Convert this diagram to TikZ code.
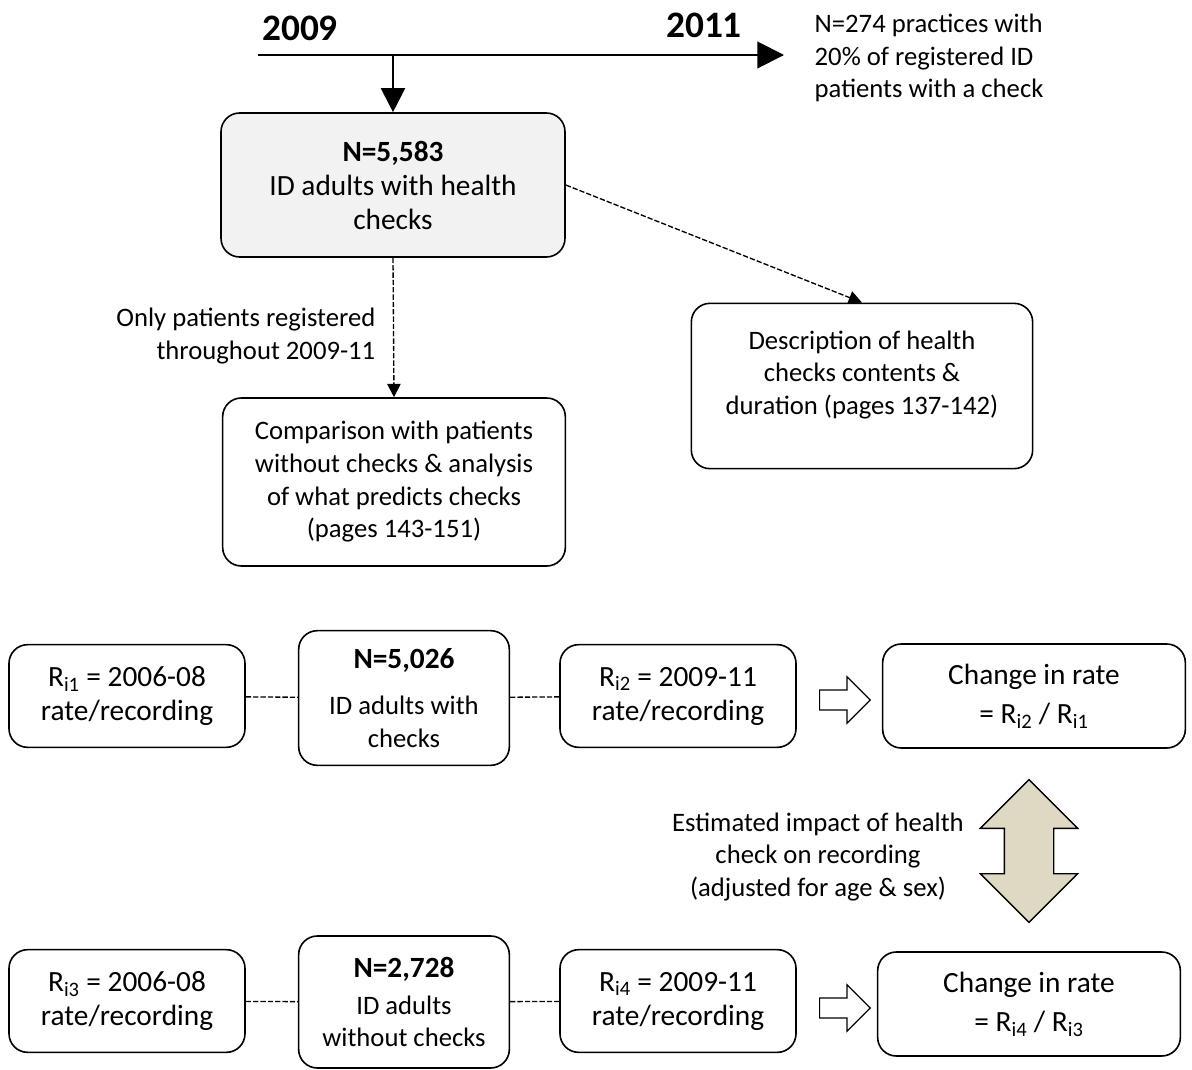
\documentclass[tikz,border=0pt]{standalone}
\usepackage{fontspec}
\setmainfont{Carlito}
\usetikzlibrary{arrows.meta,shapes.arrows}
\newcommand{\fsmall}{\fontsize{20}{24.5}\selectfont}
\newcommand{\fbig}{\fontsize{22}{25.5}\selectfont}
\definecolor{boxgray}{HTML}{F2F2F2}
\definecolor{impacttan}{HTML}{DDD9C3}

\begin{document}
\begin{tikzpicture}[x=0.75pt,y=-0.75pt,rbox/.style={draw,line width=1.2pt,rounded corners=14pt,align=center,inner sep=0pt,font=\fsmall},ratebox/.style={rbox,minimum width=177pt,minimum height=77pt,font=\fbig},nbox/.style={rbox,minimum width=158pt,minimum height=101pt},chgbox/.style={rbox,minimum width=227pt,minimum height=78pt,font=\fbig},link/.style={dash pattern=on 4pt off 1.5pt,line width=1pt},flow/.style={dash pattern=on 4pt off 1.5pt,line width=1pt,-{Triangle[length=10pt,width=10pt]}},hollow/.style={single arrow,draw,line width=0.9pt,minimum height=38pt,inner sep=7pt,single arrow head extend=10pt},year/.style={font=\fontsize{28}{32}\selectfont\bfseries}]
\useasboundingbox (0,0) rectangle (1192,1070);
\coordinate (tlL) at (258,55);
\coordinate (tlR) at (784,55);
\coordinate (tlM) at (393,55);
\node[year] (y09) at (300,28) {2009};
\node[year] (y11) at (704,25) {2011};
\node[font=\fsmall,align=left,anchor=west] (prac) at (810,58) {N=274 practices with\\20\% of registered ID\\patients with a check};
\node[rbox,fill=boxgray,minimum width=258pt,minimum height=108pt,font=\fbig] (hc) at (393,185) {\textbf{N=5,583}\\ID adults with health\\checks};
\node[rbox,minimum width=257pt,minimum height=126pt] (comp) at (394,482) {Comparison with patients\\without checks \& analysis\\of what predicts checks\\(pages 143-151)};
\node[rbox,minimum width=256pt,minimum height=124pt] (desc) at (862,386) {};
\node[font=\fsmall,align=center] (desctxt) at (862,375) {Description of health\\checks contents \&\\duration (pages 137-142)};
\node[font=\fsmall,align=right,anchor=east] (only) at (380,336) {Only patients registered\\throughout 2009-11};
\draw[line width=1.5pt,-{Triangle[length=20pt,width=20pt]}] (tlL) -- (tlR);
\draw[line width=1.5pt,-{Triangle[length=18pt,width=18pt]}] (tlM) -- (hc.north);
\draw[flow] (hc.south) -- (comp.north);
\draw[flow] (hc.east) -- (desc.north);
\node[ratebox] (r1) at (127,696) {R\textsubscript{i1} = 2006-08\\rate/recording};
\node[nbox] (n1) at (404,698) {{\fbig\bfseries N=5,026}\\[10pt]ID adults with\\checks};
\node[ratebox] (r2) at (678,696) {R\textsubscript{i2} = 2009-11\\rate/recording};
\node[hollow] (ha1) at (840,700) {};
\node[chgbox] (c1) at (1034,696) {Change in rate\\[4pt]= R\textsubscript{i2} / R\textsubscript{i1}};
\draw[link] (r1) -- (n1);
\draw[link] (n1) -- (r2);
\node[double arrow,draw,fill=impacttan,line width=1pt,rotate=90,minimum height=107pt,inner sep=18pt,double arrow head extend=18pt] (imp) at (1029,851) {};
\node[font=\fsmall,align=center] (imptxt) at (818,857) {Estimated impact of health\\check on recording\\(adjusted for age \& sex)};
\node[ratebox] (r3) at (127,1001) {R\textsubscript{i3} = 2006-08\\rate/recording};
\node[nbox,minimum height=99pt] (n2) at (404,1002) {{\fbig\bfseries N=2,728}\\[3pt]ID adults\\without checks};
\node[ratebox] (r4) at (678,1001) {R\textsubscript{i4} = 2009-11\\rate/recording};
\node[hollow] (ha2) at (840,1008) {};
\node[chgbox] (c2) at (1029,1004) {Change in rate\\[4pt]= R\textsubscript{i4} / R\textsubscript{i3}};
\draw[link] (r3) -- (n2);
\draw[link] (n2) -- (r4);
\end{tikzpicture}
\end{document}
